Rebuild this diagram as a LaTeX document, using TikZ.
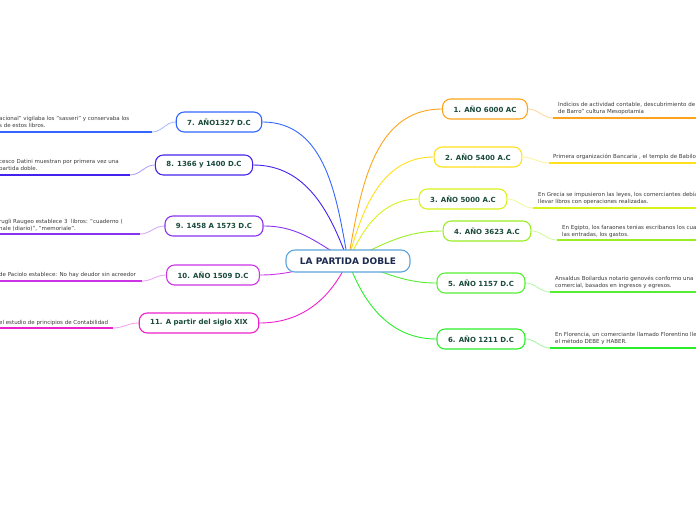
\documentclass[tikz,border=0pt]{standalone}
\usepackage{fontspec}
\setmainfont{DejaVu Sans}
\usetikzlibrary{backgrounds}

\definecolor{central}{HTML}{5DA5DA}
\definecolor{centraltext}{HTML}{1B2A4E}
\definecolor{eratext}{HTML}{1A4A3C}
\definecolor{notetext}{HTML}{3A3A3A}
\definecolor{c1}{HTML}{FFA31A}
\definecolor{c2}{HTML}{FFE01A}
\definecolor{c3}{HTML}{D8F21A}
\definecolor{c4}{HTML}{99EE22}
\definecolor{c5}{HTML}{55EE33}
\definecolor{c6}{HTML}{2AEE2A}
\definecolor{c7}{HTML}{3366FF}
\definecolor{c8}{HTML}{4422EE}
\definecolor{c9}{HTML}{8833EE}
\definecolor{c10}{HTML}{CC33E6}
\definecolor{c11}{HTML}{EE22CC}

\begin{document}
\begin{tikzpicture}[x=1pt, y=-1pt,
    era/.style={draw=#1, line width=1.1pt, rounded corners=8pt, fill=white,
        text=eratext, font=\bfseries\fontsize{7}{8}\selectfont,
        minimum height=20pt, inner xsep=11pt},
    nota/.style={anchor=west, align=left, inner sep=0pt, text=notetext,
        font=\fontsize{5.5}{7}\selectfont},
    rama/.style={draw=#1, line width=0.9pt},
    enlace/.style={draw=#1!45, line width=0.8pt},
    raya/.style={draw=#1, line width=1.6pt}]

    \clip (0,0) rectangle (696,520);

    % Centre
    \node[draw=central, line width=1.1pt, rounded corners=9pt, fill=white,
        text=centraltext, font=\bfseries\fontsize{9}{10}\selectfont,
        minimum width=124pt, minimum height=22pt] (partida) at (348,261) {LA PARTIDA DOBLE};

    % Right side
    \node[era=c1] (a1) at (485,109) {1. AÑO 6000 AC};
    \node[era=c2] (a2) at (478,157) {2. AÑO 5400 A.C};
    \node[era=c3] (a3) at (463,199) {3. AÑO 5000 A.C};
    \node[era=c4] (a4) at (487,231) {4. AÑO 3623 A.C};
    \node[era=c5] (a5) at (481,283) {5. AÑO 1157 D.C};
    \node[era=c6] (a6) at (481,339) {6. AÑO 1211 D.C};

    \node[nota] (t1) at (558,108.5) {Indicios de actividad contable, descubrimiento de\\de Barro" cultura Mesopotamia};
    \node[nota] (t2) at (553,157) {Primera organización Bancaria , el templo de Babilo};
    \node[nota] (t3) at (538,198.5) {En Grecia se impusieron las leyes, los comerciantes debía\\llevar libros con operaciones realizadas.};
    \node[nota] (t4) at (562,231) {En Egipto, los faraones tenias escribanos los cua\\las entradas, los gastos.};
    \node[nota] (t5) at (555,282.5) {Ansaldus Boilardus notario genovés conformo una\\comercial, basados en ingresos y egresos.};
    \node[nota] (t6) at (555,338.5) {En Florencia, un comerciante llamado Florentino lle\\el método DEBE y HABER.};

    \coordinate (u1) at (553,118);
    \coordinate (u2) at (549,163);
    \coordinate (u3) at (533,208);
    \coordinate (u4) at (557,240);
    \coordinate (u5) at (550,292);
    \coordinate (u6) at (550,348);

    % Left side
    \node[era=c7] (a7) at (219,122) {7. AÑO1327 D.C};
    \node[era=c8] (a8) at (204,165) {8. 1366 y 1400 D.C};
    \node[era=c9] (a9) at (214,226) {9. 1458 A 1573 D.C};
    \node[era=c10] (a10) at (213,275) {10. AÑO 1509 D.C};
    \node[era=c11] (a11) at (199,323) {11. A partir del siglo XIX};

    \node[nota] (t7) at (-1,122) {acional" vigilaba los "sasseri" y conservaba los\\s de estos libros.};
    \node[nota] (t8) at (-1,165) {cesco Datini muestran por primera vez una\\partida doble.};
    \node[nota] (t9) at (-1,225.5) {rugli Raugeo establece 3\ \ libros: "cuaderno (\\nale (diario)", "memoriale".};
    \node[nota] (t10) at (-1,275) {de Paciolo establece: No hay deudor sin acreedor};
    \node[nota] (t11) at (-1,323) {el estudio de principios de Contabilidad};

    \coordinate (u7) at (152,132);
    \coordinate (u8) at (130,175);
    \coordinate (u9) at (140,234);
    \coordinate (u10) at (142,281);
    \coordinate (u11) at (113,328);

    \begin{pgfonlayer}{background}
        % branches from the centre
        \draw[rama=c1] (partida.center) to[out=80, in=180] (a1.west);
        \draw[rama=c2] (partida.center) to[out=75, in=180] (a2.west);
        \draw[rama=c3] (partida.center) to[out=65, in=180] (a3.west);
        \draw[rama=c4] (partida.center) to[out=25, in=180] (a4.west);
        \draw[rama=c5] (partida.center) to[out=-15, in=180] (a5.west);
        \draw[rama=c6] (partida.center) to[out=-70, in=180] (a6.west);
        \draw[rama=c7] (partida.center) to[out=100, in=0] (a7.east);
        \draw[rama=c8] (partida.center) to[out=110, in=0] (a8.east);
        \draw[rama=c9] (partida.center) to[out=150, in=0] (a9.east);
        \draw[rama=c10] (partida.center) to[out=185, in=0] (a10.east);
        \draw[rama=c11] (partida.center) to[out=-115, in=0] (a11.east);

        % links to the notes
        \draw[enlace=c1] (a1.east) to[out=0, in=180] (u1);
        \draw[enlace=c2] (a2.east) to[out=0, in=180] (u2);
        \draw[enlace=c3] (a3.east) to[out=0, in=180] (u3);
        \draw[enlace=c4] (a4.east) to[out=0, in=180] (u4);
        \draw[enlace=c5] (a5.east) to[out=0, in=180] (u5);
        \draw[enlace=c6] (a6.east) to[out=0, in=180] (u6);
        \draw[enlace=c7] (a7.west) to[out=180, in=0] (u7);
        \draw[enlace=c8] (a8.west) to[out=180, in=0] (u8);
        \draw[enlace=c9] (a9.west) to[out=180, in=0] (u9);
        \draw[enlace=c10] (a10.west) to[out=180, in=0] (u10);
        \draw[enlace=c11] (a11.west) to[out=180, in=0] (u11);
    \end{pgfonlayer}

    % underlines
    \draw[raya=c1] (u1) -- ++(150,0);
    \draw[raya=c2] (u2) -- ++(150,0);
    \draw[raya=c3] (u3) -- ++(170,0);
    \draw[raya=c4] (u4) -- ++(150,0);
    \draw[raya=c5] (u5) -- ++(150,0);
    \draw[raya=c6] (u6) -- ++(150,0);
    \draw[raya=c7] (u7) -- ++(-160,0);
    \draw[raya=c8] (u8) -- ++(-140,0);
    \draw[raya=c9] (u9) -- ++(-150,0);
    \draw[raya=c10] (u10) -- ++(-150,0);
    \draw[raya=c11] (u11) -- ++(-120,0);
\end{tikzpicture}
\end{document}
